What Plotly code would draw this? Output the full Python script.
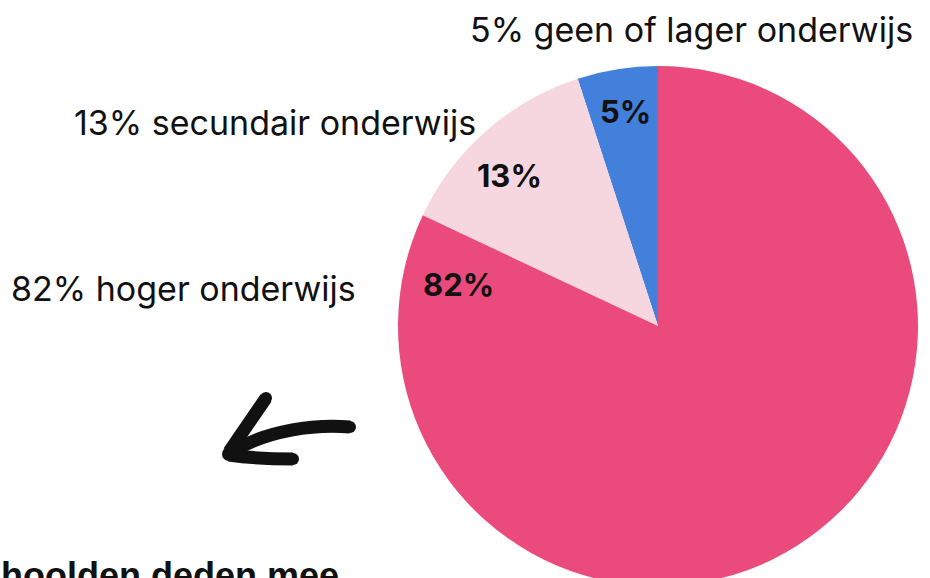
import plotly.graph_objects as go

# ---- data ----
categories = ["geen of lager onderwijs", "secundair onderwijs", "hoger onderwijs"]
values = [5, 13, 82]
colors = ["#4280DB", "#F7D7DF", "#EA4B7C"]
footer_text = "hoolden deden mee"

W, H = 930, 600


def px(x, y):
    return x / W, 1 - y / H


# counterclockwise pies in plotly start after the first slice; shift back by its angle
first_angle = 360 * values[0] / sum(values)

fig = go.Figure()
fig.add_trace(go.Pie(
    labels=categories,
    values=values,
    sort=False,
    direction="counterclockwise",
    rotation=-first_angle,
    marker=dict(colors=colors, line=dict(width=0)),
    textinfo="none",
    hoverinfo="label+percent",
    showlegend=False,
    domain=dict(x=[398 / W, 918 / W], y=[1 - 586 / H, 1 - 66 / H]),
))

label_font = dict(family="Inter, 'Open Sans', sans-serif", size=34, color="#111111")
bold_font = dict(family="Inter, 'Open Sans', sans-serif", size=31, color="#111111")

# outside labels (right-aligned)
outside_pos = [(915, 29), (478, 123), (358, 288)]
inside_pos = [(625, 111), (510, 175), (458, 284)]
annotations = []
for cat, v, (ox, oy), (ix, iy) in zip(categories, values, outside_pos, inside_pos):
    x, y = px(ox, oy)
    annotations.append(dict(x=x, y=y, xref="paper", yref="paper", xanchor="right",
                            yanchor="middle", showarrow=False, text=f"{v}% {cat}",
                            font=label_font))
    x, y = px(ix, iy)
    annotations.append(dict(x=x, y=y, xref="paper", yref="paper", xanchor="center",
                            yanchor="middle", showarrow=False, text=f"<b>{v}%</b>",
                            font=bold_font))

fx, fy = px(341, 575)
annotations.append(dict(x=fx, y=fy, xref="paper", yref="paper", xanchor="right",
                        yanchor="middle", showarrow=False, text=f"<b>{footer_text}</b>",
                        font=dict(family="Liberation Sans, Arial, sans-serif", size=36,
                                  color="#111111")))


def path(cmds):
    out = []
    for c in cmds:
        if isinstance(c, str):
            out.append(c)
        else:
            x, y = px(*c)
            out.append(f"{x:.5f},{y:.5f}")
    return " ".join(out)


ink = "#111111"
arrow_line = dict(color=ink, width=13)
shapes = [
    dict(type="path", xref="paper", yref="paper", line=arrow_line,
         path=path(["M", (350, 427), "C", (315, 424), (268, 430), (231, 452)])),
    dict(type="path", xref="paper", yref="paper", line=arrow_line,
         path=path(["M", (266, 398), "L", (229, 452)])),
    dict(type="path", xref="paper", yref="paper", line=arrow_line,
         path=path(["M", (229, 455), "C", (250, 458), (275, 459), (293, 459)])),
]
# rounded stroke ends
for cx, cy, r in [(350, 427, 6), (266, 398, 6), (293, 459, 6), (229, 454, 7)]:
    x0, y1 = px(cx - r, cy - r)
    x1, y0 = px(cx + r, cy + r)
    shapes.append(dict(type="circle", xref="paper", yref="paper", x0=x0, x1=x1,
                       y0=y0, y1=y1, fillcolor=ink, line=dict(width=0)))

fig.update_layout(
    width=W, height=H,
    margin=dict(l=0, r=0, t=0, b=0),
    paper_bgcolor="white", plot_bgcolor="white",
    annotations=annotations,
    shapes=shapes,
)

fig.write_html("out.html", config=dict(displayModeBar=False),
               post_script="document.body.style.margin='0';document.body.style.overflow='hidden';")
